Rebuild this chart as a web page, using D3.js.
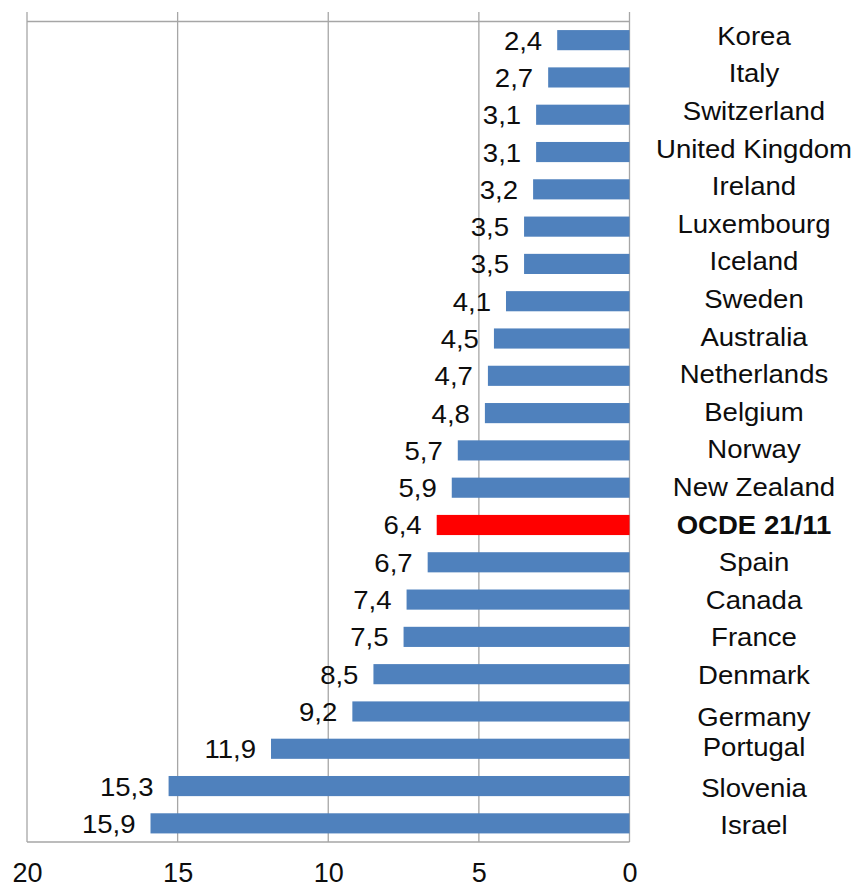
<!DOCTYPE html>
<html>
<head>
<meta charset="utf-8">
<script src="https://cdn.jsdelivr.net/npm/d3@7"></script>
<style>
  html, body { margin: 0; padding: 0; background: #fff; }
  svg { display: block; font-family: "Liberation Sans", Arial, sans-serif; }
</style>
</head>
<body>
<svg id="chart" width="856" height="888"></svg>
<script>
// Countries, top to bottom
const countries = [
  "Korea", "Italy", "Switzerland", "United Kingdom", "Ireland", "Luxembourg",
  "Iceland", "Sweden", "Australia", "Netherlands", "Belgium", "Norway",
  "New Zealand", "OCDE 21/11", "Spain", "Canada", "France", "Denmark",
  "Germany", "Portugal", "Slovenia", "Israel"
];
const values = [
  2.4, 2.7, 3.1, 3.1, 3.2, 3.5,
  3.5, 4.1, 4.5, 4.7, 4.8, 5.7,
  5.9, 6.4, 6.7, 7.4, 7.5, 8.5,
  9.2, 11.9, 15.3, 15.9
];
const highlight = "OCDE 21/11";
const tickValues = [20, 15, 10, 5, 0];

const data = countries.map((c, i) => ({ country: c, value: values[i] }));

const svg = d3.select("#chart");
const plot = { left: 27, right: 629.5, top: 21.5, bottom: 842 };

// Text is drawn slightly widened horizontally
const sx = 1.06;

// Reversed axis: bars grow leftwards from zero on the right
const x = d3.scaleLinear().domain([20, 0]).range([plot.left, plot.right]);
const y = d3.scaleBand()
  .domain(countries)
  .range([plot.top, plot.bottom])
  .paddingInner(0.46)
  .paddingOuter(0.23);

// Country labels sit on their own, slightly wider rhythm
const labelY = d3.scalePoint().domain(countries).range([35.5, 825]);
const labelNudge = { "Germany": 4.5, "Portugal": -3.5 };

const gridColor = "#a6a6a6";

// Vertical gridlines with small ticks above the frame
svg.append("g")
  .selectAll("line")
  .data(tickValues)
  .join("line")
  .attr("x1", d => x(d)).attr("x2", d => x(d))
  .attr("y1", plot.top - 9.5).attr("y2", plot.bottom)
  .attr("stroke", gridColor).attr("stroke-width", 1.3);

// Top and bottom frame lines
svg.append("g")
  .selectAll("line")
  .data([plot.top, plot.bottom])
  .join("line")
  .attr("x1", plot.left).attr("x2", plot.right)
  .attr("y1", d => d).attr("y2", d => d)
  .attr("stroke", gridColor).attr("stroke-width", 1.3);

// Bars
svg.append("g")
  .selectAll("rect")
  .data(data)
  .join("rect")
  .attr("x", d => x(d.value))
  .attr("y", d => y(d.country))
  .attr("width", d => x(0) - x(d.value))
  .attr("height", y.bandwidth())
  .attr("fill", d => d.country === highlight ? "#ff0000" : "#4f81bd");

// Value labels to the left of each bar
const fmt = v => d3.format(".1f")(v).replace(".", ",");
svg.append("g")
  .attr("transform", `scale(${sx},1)`)
  .selectAll("text")
  .data(data)
  .join("text")
  .attr("x", d => (x(d.value) - 15) / sx)
  .attr("y", d => y(d.country) + y.bandwidth() / 2 + 9.5)
  .attr("text-anchor", "end")
  .attr("font-size", 26)
  .attr("fill", "#0d0d0d")
  .text(d => fmt(d.value));

// Country names on the right
svg.append("g")
  .attr("transform", `scale(${sx},1)`)
  .selectAll("text")
  .data(data)
  .join("text")
  .attr("x", 754 / sx)
  .attr("y", d => labelY(d.country) + (labelNudge[d.country] || 0) + 9.3)
  .attr("text-anchor", "middle")
  .attr("font-size", 26)
  .attr("font-weight", d => d.country === highlight ? "bold" : "normal")
  .attr("fill", "#0d0d0d")
  .text(d => d.country);

// Axis tick labels below the frame
const axis = d3.axisBottom(x).tickValues(tickValues).tickSize(0).tickPadding(0);
const gAxis = svg.append("g")
  .attr("transform", `translate(0, ${plot.bottom})`)
  .call(axis);
gAxis.select(".domain").remove();
gAxis.selectAll("text")
  .attr("y", 40)
  .attr("dy", null)
  .attr("font-size", 27)
  .attr("font-family", "Liberation Sans, Arial, sans-serif")
  .attr("fill", "#0d0d0d");
</script>
</body>
</html>
